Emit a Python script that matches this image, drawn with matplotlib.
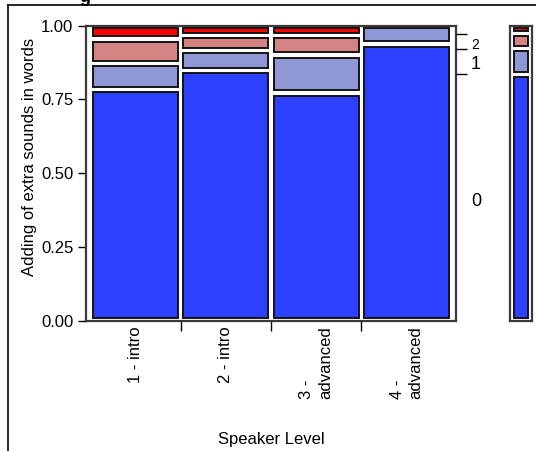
import numpy as np
import matplotlib
matplotlib.use("Agg")
import matplotlib.pyplot as plt
from matplotlib.patches import Rectangle
from matplotlib.lines import Line2D

plt.rcParams['font.family'] = ['Liberation Sans', 'DejaVu Sans']

# data (share of each response within a speaker level)
levels = ["1 - intro", "2 - intro", "3 -\nadvanced", "4 -\nadvanced"]
level_share = [0.25, 0.25, 0.25, 0.25]
resp_labels = ["0", "1", "2", "3"]
prop0 = [0.783, 0.848, 0.771, 0.938]
prop1 = [0.088, 0.068, 0.129, 0.062]
prop2 = [0.084, 0.051, 0.067, 0.0]
prop3 = [0.045, 0.033, 0.033, 0.0]

colors = ["#2E40FF", "#8F97D6", "#D48282", "#FF0000"]
edge = "#141414"

W, H = 536, 451
fig = plt.figure(figsize=(W / 100, H / 100), dpi=100)

def px(x0, y0, x1, y1):
    # pixel box (top-left origin) -> figure fraction rect
    return [x0 / W, 1 - y1 / H, (x1 - x0) / W, (y1 - y0) / H]

# outer panel lines
fig.add_artist(Line2D([8 / W, 1], [1 - 5 / H] * 2, color="black", lw=1.2))
fig.add_artist(Line2D([8 / W] * 2, [0, 1 - 5 / H], color="black", lw=1.2))
# clipped title glyph at the very top
fig.text(79 / W, 1 - 1.5 / H, "g", fontsize=13, fontweight="bold", va="baseline")

ax = fig.add_axes(px(86, 25.5, 456, 321))
pad = 0.012
ax.set_xlim(-pad, 1 + pad)
ax.set_ylim(0, 1)

props = np.array([prop0, prop1, prop2, prop3])
gx, gy = 0.0076, 0.0093
left = 0.0
centers = []
bounds = []
for j, share in enumerate(level_share):
    bottom = 0.0
    for k in range(len(resp_labels)):
        h = props[k, j]
        if h > 0:
            ax.add_patch(Rectangle((left + gx, bottom + gy), share - 2 * gx, h - 2 * gy,
                                   facecolor=colors[k], edgecolor=edge, lw=1.4))
        bottom += h
    centers.append(left + share / 2)
    left += share
    if j < len(level_share) - 1:
        bounds.append(left)

for s in ax.spines.values():
    s.set_color("#3a3a3a")
    s.set_linewidth(1.6)

ax.set_yticks([0, 0.25, 0.5, 0.75, 1.0])
ax.set_yticklabels(["0.00", "0.25", "0.50", "0.75", "1.00"])
ax.tick_params(axis="y", length=6, width=1, labelsize=12, pad=3)
ax.set_xticks(centers)
ax.set_xticklabels(levels, rotation=90, fontsize=12, va="top", ha="center",
                   multialignment="left", linespacing=1.3)
ax.tick_params(axis="x", which="major", length=0, pad=4)
ax.set_xticks(bounds, minor=True)
ax.tick_params(axis="x", which="minor", length=7, width=1)
ax.set_ylabel("Adding of extra sounds in words", fontsize=12)
ax.yaxis.set_label_coords(-0.133, 0.555)
ax.set_xlabel("Speaker Level", fontsize=12)
ax.xaxis.set_label_coords(0.5, -0.375)

# marginal distribution (overall) on the right
marg = props @ np.array(level_share)
cum = np.cumsum(marg)
axr = ax.twinx()
axr.set_ylim(0, 1)
axr.set_yticks(cum[:-1])
axr.set_yticklabels([])
axr.tick_params(axis="y", length=8, width=1)
for s in axr.spines.values():
    s.set_visible(False)
mids = cum - marg / 2
fsz = [13, 13, 10, 0]
for k in range(len(resp_labels)):
    if marg[k] > 0.04:
        axr.text(1.04, mids[k] - 0.012, resp_labels[k], transform=axr.get_yaxis_transform(),
                 fontsize=fsz[k], va="center", ha="left")

axm = fig.add_axes(px(510, 25.5, 532, 321))
axm.set_xlim(0, 1)
axm.set_ylim(0, 1)
bottom = 0.0
for k in range(len(resp_labels)):
    axm.add_patch(Rectangle((4 / 22, bottom + gy), 14 / 22, marg[k] - 2 * gy,
                            facecolor=colors[k], edgecolor=edge, lw=1.4))
    bottom += marg[k]
axm.set_xticks([])
axm.set_yticks([])
for s in axm.spines.values():
    s.set_color("#3a3a3a")
    s.set_linewidth(1.6)

fig.savefig("out.png", dpi=100)
